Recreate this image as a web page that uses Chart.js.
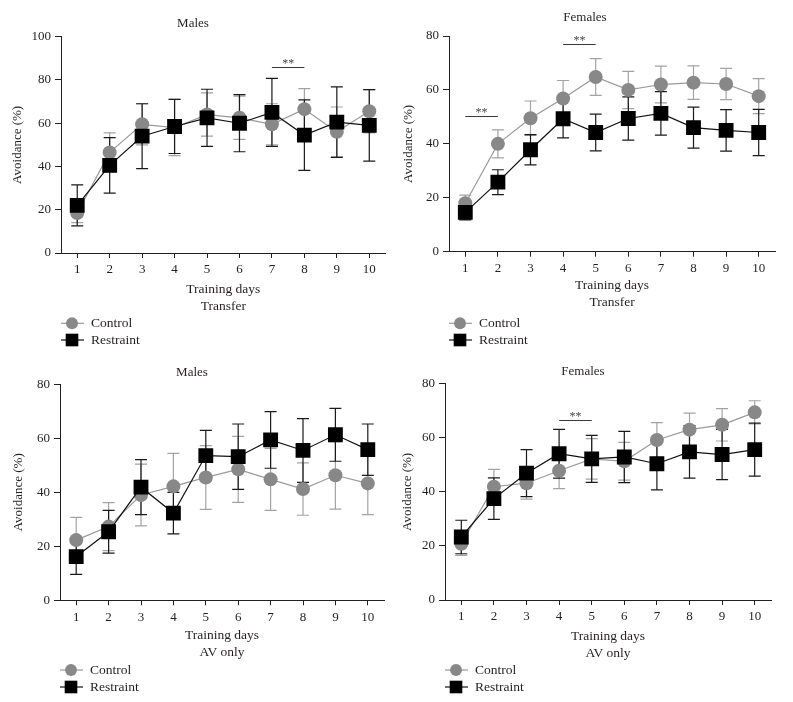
<!DOCTYPE html>
<html>
<head>
<meta charset="utf-8">
<script src="https://cdn.jsdelivr.net/npm/chart.js@4.4.1/dist/chart.umd.min.js"></script>
<style>
  body { margin: 0; background: #fff; }
  #wrap { position: relative; width: 793px; height: 702px; }
  canvas { position: absolute; }
</style>
</head>
<body>
<div id="wrap">
  <canvas id="tm" width="396" height="350" style="left:0;top:0"></canvas>
  <canvas id="tf" width="398" height="350" style="left:395px;top:0"></canvas>
  <canvas id="am" width="396" height="352" style="left:0;top:350px"></canvas>
  <canvas id="af" width="398" height="352" style="left:395px;top:350px"></canvas>
</div>
<script>
// training days on the x axis
const days = ['1', '2', '3', '4', '5', '6', '7', '8', '9', '10'];

// Transfer - males
const tmControl = [18.5, 46.5, 59.5, 58, 64, 62.5, 59.5, 66.5, 56, 65.5];
const tmControlErr = [4.5, 9, 9.5, 13, 10, 10, 9.5, 9.5, 11.5, 10];
const tmRestraint = [22, 40.5, 54, 58.5, 62.5, 60, 65, 54.5, 60.5, 59];
const tmRestraintErr = [9.5, 12.8, 15, 12.5, 13.2, 13.2, 15.7, 16.3, 16.3, 16.5];
const tmSig = [['7', '8', 86]];

// Transfer - females
const tfControl = [18, 40, 49.5, 56.8, 64.8, 60, 62, 62.7, 62.2, 57.7];
const tfControlErr = [3, 5.2, 6.4, 6.7, 6.8, 6.9, 6.8, 6.2, 5.8, 6.5];
const tfRestraint = [14.6, 25.8, 37.8, 49.3, 44.2, 49.4, 51.3, 46, 45, 44.2];
const tfRestraintErr = [2.8, 4.6, 5.6, 7.1, 6.8, 8, 8.1, 7.6, 7.7, 8.6];
const tfSig = [['1', '2', 50.5], ['4', '5', 77]];

// AV only - males
const amControl = [22.3, 27.3, 39, 42.2, 45.5, 48.5, 44.8, 41.2, 46.3, 43.3];
const amControlErr = [8.4, 8.9, 11.4, 12.2, 11.8, 12.2, 11.5, 9.7, 12.5, 11.6];
const amRestraint = [16.2, 25.4, 41.9, 32.3, 53.6, 53.2, 59.4, 55.5, 61.3, 55.8];
const amRestraintErr = [6.6, 7.9, 10.2, 7.7, 9.3, 12.1, 10.5, 11.8, 9.8, 9.5];
const amSig = [];

// AV only - females
const afControl = [20.8, 41.9, 43.2, 47.8, 52.2, 51.3, 59.2, 63, 64.8, 69.4];
const afControlErr = [4.3, 6.4, 5.9, 6.6, 7.5, 7, 6.4, 6.1, 6, 4.3];
const afRestraint = [23.3, 37.5, 46.9, 54.1, 52.2, 52.9, 50.4, 54.8, 53.8, 55.6];
const afRestraintErr = [6.2, 7.7, 8.7, 9, 8.7, 9.5, 9.7, 9.7, 9.3, 9.8];
const afSig = [['4', '5', 66.6]];

const FONT = "'Liberation Serif', 'DejaVu Serif', serif";
const INK = '#231f20';

Chart.defaults.font.family = FONT;
Chart.defaults.color = INK;

// vertical SEM bars with caps, drawn under the markers
const errorBars = {
  id: 'errorBars',
  beforeDatasetsDraw(chart) {
    const ctx = chart.ctx, y = chart.scales.y;
    chart.data.datasets.forEach((ds, di) => {
      const meta = chart.getDatasetMeta(di);
      ctx.save();
      ctx.strokeStyle = ds.errColor;
      ctx.lineWidth = 1.2;
      meta.data.forEach((pt, i) => {
        const hi = y.getPixelForValue(ds.data[i] + ds.err[i]);
        const lo = y.getPixelForValue(ds.data[i] - ds.err[i]);
        ctx.beginPath();
        ctx.moveTo(pt.x, hi); ctx.lineTo(pt.x, lo);
        ctx.moveTo(pt.x - 6, hi); ctx.lineTo(pt.x + 6, hi);
        ctx.moveTo(pt.x - 6, lo); ctx.lineTo(pt.x + 6, lo);
        ctx.stroke();
      });
      ctx.restore();
    });
  }
};

// ** significance lines
const sigBars = {
  id: 'sigBars',
  afterDatasetsDraw(chart, args, opts) {
    const ctx = chart.ctx, { x, y } = chart.scales;
    (opts.marks || []).forEach(([a, b, v]) => {
      const x1 = x.getPixelForValue(days.indexOf(a));
      const x2 = x.getPixelForValue(days.indexOf(b));
      const yy = Math.round(y.getPixelForValue(v)) + 0.5;
      ctx.save();
      ctx.strokeStyle = '#3a3a3a';
      ctx.lineWidth = 1;
      ctx.beginPath();
      ctx.moveTo(x1, yy); ctx.lineTo(x2, yy);
      ctx.stroke();
      ctx.fillStyle = '#444';
      ctx.font = '12px ' + FONT;
      ctx.textAlign = 'center';
      ctx.textBaseline = 'alphabetic';
      ctx.fillText('**', (x1 + x2) / 2, yy - 1);
      ctx.restore();
    });
  }
};

// legend as line + marker, stacked under the plot
const lineLegend = {
  id: 'lineLegend',
  afterDraw(chart, args, opts) {
    const ctx = chart.ctx, x0 = chart.chartArea.left;
    chart.data.datasets.forEach((ds, i) => {
      const yy = opts.rows[i];
      ctx.save();
      ctx.strokeStyle = ds.borderColor;
      ctx.lineWidth = 1.2;
      ctx.beginPath();
      ctx.moveTo(x0, yy); ctx.lineTo(x0 + 23, yy);
      ctx.stroke();
      ctx.fillStyle = ds.backgroundColor;
      Chart.helpers.drawPoint(ctx, { pointStyle: ds.pointStyle, radius: ds.pointRadius * 0.85, borderWidth: 0 }, x0 + 11, yy);
      ctx.fillStyle = INK;
      ctx.font = '13.5px ' + FONT;
      ctx.textBaseline = 'middle';
      ctx.fillText(ds.label, x0 + 30, yy);
      ctx.restore();
    });
  }
};

function makePanel(id, title, sub, control, controlErr, restraint, restraintErr, sig, yMax, g) {
  const canvas = document.getElementById(id);
  const W = canvas.width, H = canvas.height;
  const padBottom = H - g.subY - 8;
  return new Chart(canvas, {
    type: 'line',
    data: {
      labels: days,
      datasets: [
        {
          label: 'Control', data: control, err: controlErr, errColor: '#a3a3a3',
          borderColor: '#9a9a9a', backgroundColor: '#888888', borderWidth: 1.2,
          pointStyle: 'circle', pointRadius: 7, pointBorderWidth: 0, order: 2
        },
        {
          label: 'Restraint', data: restraint, err: restraintErr, errColor: '#1a1a1a',
          borderColor: '#111111', backgroundColor: '#000000', borderWidth: 1.2,
          pointStyle: 'rect', pointRadius: 10.5, pointBorderWidth: 0, order: 1
        }
      ]
    },
    options: {
      responsive: false,
      animation: false,
      events: [],
      layout: { padding: { top: 0, left: 0, right: W - g.right, bottom: padBottom } },
      plugins: {
        legend: { display: false },
        tooltip: { enabled: false },
        title: {
          display: true, text: title, color: INK,
          font: { size: 13, weight: 'normal' },
          padding: { top: g.titleY - 7.8, bottom: g.top - g.titleY - 7.8 }
        },
        sigBars: { marks: sig },
        lineLegend: { rows: g.legendRows }
      },
      scales: {
        x: {
          offset: true,
          grid: { display: true, drawOnChartArea: false, drawTicks: true, tickLength: 5, color: INK },
          border: { display: true, color: INK, width: 1 },
          ticks: { font: { size: 13 }, color: INK, padding: 4, maxRotation: 0 },
          title: { display: true, text: ['Training days', sub], color: INK, font: { size: 13.5, lineHeight: 1.25 }, padding: 0 },
          afterFit(s) { s.height = H - padBottom - g.bottom; }
        },
        y: {
          min: 0, max: yMax,
          grid: { display: true, drawOnChartArea: false, drawTicks: true, tickLength: 6, color: INK },
          border: { display: true, color: INK, width: 1 },
          ticks: { stepSize: 20, font: { size: 13 }, color: INK, padding: 4 },
          title: { display: true, text: 'Avoidance (%)', color: INK, font: { size: 13 }, padding: { top: g.yTitleX - 7.8, bottom: 0 } },
          afterFit(s) { s.width = g.left; }
        }
      }
    },
    plugins: [errorBars, sigBars, lineLegend]
  });
}

makePanel('tm', 'Males', 'Transfer', tmControl, tmControlErr, tmRestraint, tmRestraintErr, tmSig, 100,
  { left: 61, right: 386, top: 36.7, bottom: 253, titleY: 23.3, subY: 307, yTitleX: 18, legendRows: [323.3, 340] });
makePanel('tf', 'Females', 'Transfer', tfControl, tfControlErr, tfRestraint, tfRestraintErr, tfSig, 80,
  { left: 54, right: 380, top: 36, bottom: 251.7, titleY: 17.3, subY: 303, yTitleX: 14, legendRows: [323.3, 340] });
makePanel('am', 'Males', 'AV only', amControl, amControlErr, amRestraint, amRestraintErr, amSig, 80,
  { left: 60, right: 384, top: 34.3, bottom: 250.3, titleY: 22.7, subY: 303, yTitleX: 18.3, legendRows: [320, 337] });
makePanel('af', 'Females', 'AV only', afControl, afControlErr, afRestraint, afRestraintErr, afSig, 80,
  { left: 50, right: 376, top: 33.7, bottom: 250, titleY: 21.3, subY: 304, yTitleX: 12.3, legendRows: [320, 337] });
</script>
</body>
</html>
